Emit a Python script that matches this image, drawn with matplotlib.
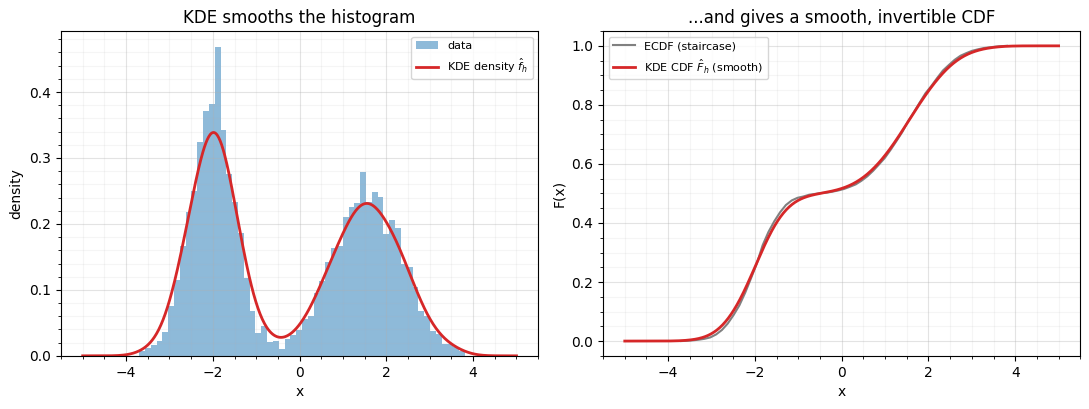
import math
import numpy as np
import matplotlib.pyplot as plt

# histogram of the sample (density per bin)
bin_start = -3.70
bin_end = 3.81
hist_density = [
    0.0076, 0.0116, 0.0157, 0.023, 0.036, 0.076, 0.115, 0.166, 0.218, 0.250,
    0.325, 0.372, 0.382, 0.469, 0.342, 0.275, 0.233, 0.187, 0.118, 0.068,
    0.034, 0.045, 0.021, 0.023, 0.010, 0.025, 0.031, 0.039, 0.056, 0.061,
    0.095, 0.114, 0.142, 0.163, 0.167, 0.210, 0.225, 0.232, 0.279, 0.233,
    0.249, 0.241, 0.185, 0.206, 0.194, 0.139, 0.134, 0.105, 0.068, 0.060,
    0.038, 0.033, 0.018, 0.018, 0.013, 0.008,
]
bandwidth = 0.3
grid_lo, grid_hi = -5, 5

edges = np.linspace(bin_start, bin_end, len(hist_density) + 1)
widths = np.diff(edges)
centers = (edges[:-1] + edges[1:]) / 2
heights = np.array(hist_density)
weights = heights * widths
weights = weights / weights.sum()

# kernel estimate built from the binned sample
xs = np.linspace(grid_lo, grid_hi, 600)
z = (xs[:, None] - centers[None, :]) / bandwidth
kde_pdf = (np.exp(-0.5 * z**2) / (bandwidth * math.sqrt(2 * math.pi)) * weights).sum(axis=1)
erf = np.vectorize(math.erf)
kde_cdf = (0.5 * (1 + erf(z / math.sqrt(2))) * weights).sum(axis=1)

# empirical CDF of the binned sample
ecdf_x = edges
ecdf_y = np.concatenate([[0], np.cumsum(weights)])

fig, axes = plt.subplots(1, 2, figsize=(10.89, 4.09), dpi=100)
fig.subplots_adjust(left=0.056, right=0.992, top=0.924, bottom=0.130, wspace=0.136)

ax = axes[0]
bars = ax.bar(edges[:-1], heights, width=widths, align="edge", color="C0", alpha=0.5, label="data")
line, = ax.plot(xs, kde_pdf, color="C3", lw=2, label=r"KDE density $\hat{f}_h$")
ax.set_title("KDE smooths the histogram")
ax.set_xlabel("x")
ax.set_ylabel("density")
ax.legend(handles=[bars, line], fontsize=8, loc="upper right")

ax = axes[1]
ax.plot(ecdf_x, ecdf_y, color="gray", lw=1.5, label="ECDF (staircase)")
ax.plot(xs, kde_cdf, color="C3", lw=2, label=r"KDE CDF $\hat{F}_h$ (smooth)")
ax.set_title("...and gives a smooth, invertible CDF")
ax.set_xlabel("x")
ax.set_ylabel("F(x)")
ax.legend(fontsize=8, loc="upper left")

for ax in axes:
    ax.minorticks_on()
    ax.grid(True, which="major", alpha=0.35)
    ax.grid(True, which="minor", alpha=0.12)

plt.savefig("out.png")
